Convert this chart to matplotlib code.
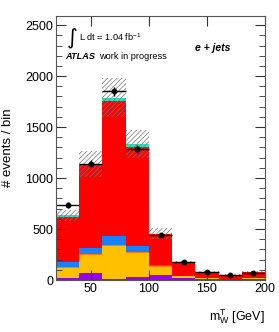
import numpy as np
import matplotlib
matplotlib.use('Agg')
from matplotlib import pyplot as plt, ticker

plt.rcParams['font.family'] = ['Liberation Sans', 'DejaVu Sans']
plt.rcParams['mathtext.fontset'] = 'custom'
plt.rcParams['mathtext.rm'] = 'Liberation Sans'
plt.rcParams['mathtext.it'] = 'Liberation Sans:italic'
plt.rcParams['hatch.linewidth'] = 0.5

# bin edges of m_W^T [GeV]
edges = np.array([20, 40, 60, 80, 100, 120, 140, 160, 180, 200])

# stacked MC contributions, bottom to top
purple = np.array([15, 72, 5, 29, 46, 15, 8, 5, 8])
yellow = np.array([100, 170, 328, 236, 78, 20, 10, 5, 10])
orange = np.array([15, 16, 10, 9, 13, 5, 3, 2, 3])
blue = np.array([43, 53, 88, 62, 13, 3, 2, 1, 2])
red = np.array([447, 816, 1323, 970, 301, 133, 59, 39, 57])
cyan = np.array([15, 13, 33, 27, 5, 2, 1, 1, 1])

# systematic band half-width
syst = np.array([55, 126, 190, 140, 55, 12, 8, 6, 8])

# data
data = np.array([735, 1140, 1852, 1284, 441, 178, 78, 48, 69])

stack = [purple, yellow, orange, blue, red, cyan]
colors = ['#9900ee', '#ffc000', '#ff8000', '#1a80ff', '#ff0000', '#33e0c0']

fig = plt.figure(figsize=(2.79, 3.32), dpi=100)
ax = fig.add_axes([0.2007, 0.1566, 0.7493, 0.7954])

bottom = np.zeros(len(purple))
for vals, c in zip(stack, colors):
    ax.stairs(bottom + vals, edges, baseline=bottom, fill=True, color=c, linewidth=0)
    bottom = bottom + vals
total = bottom

ax.bar(edges[:-1], 2 * syst, bottom=total - syst, width=20, align='edge',
       fill=False, hatch='///////', edgecolor='#777777', linewidth=0)

centers = 0.5 * (edges[:-1] + edges[1:])
ax.errorbar(centers, data, xerr=10, yerr=np.sqrt(data), fmt='o', color='black',
            markersize=3.2, elinewidth=1.0, capsize=0)

ax.set_xlim(20, 200)
ax.set_ylim(0, 2590)
ax.xaxis.set_major_locator(ticker.MultipleLocator(50))
ax.yaxis.set_major_locator(ticker.MultipleLocator(500))
ax.yaxis.set_minor_locator(ticker.MultipleLocator(100))
ax.tick_params(which='both', direction='in', top=True, right=True, labelsize=9,
               color='#333333')
ax.tick_params(which='major', length=7, pad=2)
ax.tick_params(which='minor', length=4)
for s in ax.spines.values():
    s.set_color('#555555')

ax.set_ylabel('# events / bin', fontsize=9.5, labelpad=8)
ax.set_xlabel(r'm$_{\mathrm{W}}^{\mathrm{T}}$ [GeV]', fontsize=9, loc='right', labelpad=9)

ax.text(0.077, 0.917, '\u222b', transform=ax.transAxes, fontsize=15,
        ha='center', va='center', family='DejaVu Sans')
ax.text(0.108, 0.92, r'L dt = 1.04 fb$^{\mathrm{-1}}$', transform=ax.transAxes,
        fontsize=6.6, va='center')
ax.text(0.045, 0.845, 'ATLAS', transform=ax.transAxes, fontsize=6.6,
        fontweight='bold', style='italic', va='center')
ax.text(0.205, 0.845, 'work in progress', transform=ax.transAxes, fontsize=6.6, va='center')
ax.text(0.665, 0.88, 'e + jets', transform=ax.transAxes, fontsize=7.5,
        fontweight='bold', style='italic', va='center')

fig.savefig('out.png', dpi=100)
